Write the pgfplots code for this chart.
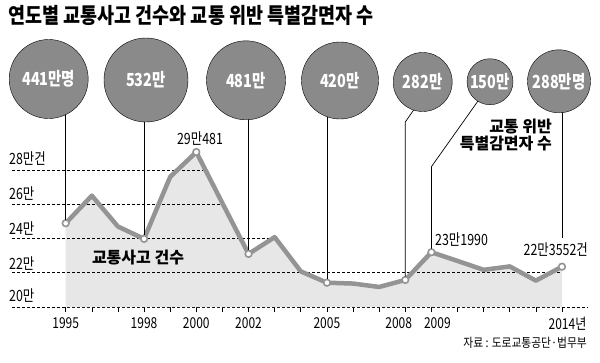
\documentclass[border=0pt]{standalone}
\usepackage{fontspec}
\usepackage{pgfplots}
\pgfplotsset{compat=1.18}
\setmainfont{Noto Sans CJK KR}
\newfontfamily\cond[FakeStretch=0.8]{Noto Sans CJK KR}
\newfontfamily\condt[FakeStretch=0.86]{Noto Sans CJK KR}
\definecolor{linegray}{RGB}{148,148,148}
\definecolor{bubble}{RGB}{138,138,138}
\definecolor{fillgray}{RGB}{231,231,231}
\pgfplotstableread{
year val
1995 24.89
1996 26.50
1997 24.70
1998 23.98
1999 27.60
2000 29.0481
2001 26.06
2002 23.10
2003 24.08
2004 22.08
2005 21.42
2006 21.37
2007 21.17
2008 21.58
2009 23.199
2010 22.69
2011 22.17
2012 22.37
2013 21.54
2014 22.3552
}\accidents
\pgfplotstableread{
year val
1995 24.89
1998 23.98
2000 29.0481
2002 23.10
2005 21.42
2008 21.58
2009 23.199
2014 22.3552
}\marked
\pgfplotsset{
  bub/.style={only marks, mark=*, mark size=#1, mark options={fill=bubble, draw=none},
    every node near coord/.style={anchor=center, text=white, inner sep=0pt,
      font=\cond\bfseries\fontsize{18bp}{18bp}\selectfont}},
}
\begin{document}
\begin{tikzpicture}
% data axis
\begin{axis}[
  at={(12bp,55bp)}, anchor=south west,
  scale only axis, width=576bp, height=137bp,
  xmin=1992.944, xmax=2014.996, ymin=20, ymax=28,
  clip=false,
  axis x line*=bottom, axis y line=none,
  x axis line style={-, black, line width=0.6bp, dash pattern=on 3bp off 2bp},
  xtick={1995,...,2014},
  xticklabels={1995,,,1998,,2000,,2002,,,2005,,,\hspace*{-13bp}2008,2009\hspace*{-12bp},,,,,2014\rlap{년}},
  xtick align=outside, major tick length=5bp,
  tick style={black, line width=0.6bp},
  ytick=\empty,
  xticklabel style={font=\cond\fontsize{15bp}{15bp}\selectfont, yshift=-2bp},
]
\addplot[fill=fillgray, draw=none] table[x=year,y=val] {
year val
1995 20
1995 24.89
1996 26.50
1997 24.70
1998 23.98
1999 27.60
2000 29.0481
2001 26.06
2002 23.10
2003 24.08
2004 22.08
2005 21.42
2006 21.37
2007 21.17
2008 21.58
2009 23.199
2010 22.69
2011 22.17
2012 22.37
2013 21.54
2014 22.3552
2014 20
};
\draw[black, line width=0.6bp, dash pattern=on 3bp off 2bp] (axis cs:1992.944,28) -- (axis cs:2000.26,28);
\draw[black, line width=0.6bp, dash pattern=on 3bp off 2bp] (axis cs:1992.944,26) -- (axis cs:2000.91,26);
\draw[black, line width=0.6bp, dash pattern=on 3bp off 2bp] (axis cs:1992.944,24) -- (axis cs:2002.82,24);
\draw[black, line width=0.6bp, dash pattern=on 3bp off 2bp] (axis cs:1992.944,22) -- (axis cs:2014,22);
\addplot[linegray, line width=4.5bp, line join=round] table[x=year,y=val] {\accidents};
\addplot[only marks, mark=*, mark size=3.3bp, mark options={fill=white, draw=linegray, line width=1.6bp}] table[x=year,y=val] {\marked};
\end{axis}
% annotation axis in pixel units
\begin{axis}[
  at={(0,0)}, anchor=south west,
  scale only axis, width=600bp, height=362bp,
  xmin=0, xmax=600, ymin=0, ymax=362, y dir=reverse,
  hide axis, clip=false,
]
\path (axis cs:0,0) rectangle (axis cs:600,362);
% connectors
\draw[black, line width=0.7bp] (axis cs:65.7,80) -- (axis cs:65.7,219.5);
\draw[black, line width=0.7bp] (axis cs:144.1,80) -- (axis cs:144.1,235);
\draw[black, line width=0.7bp] (axis cs:248.5,80) -- (axis cs:248.5,250);
\draw[black, line width=0.7bp] (axis cs:326.9,80) -- (axis cs:326.9,279);
\draw[black, line width=0.7bp] (axis cs:415,108) -- (axis cs:405.3,122) -- (axis cs:405.3,276.5);
\draw[black, line width=0.7bp] (axis cs:478,101) -- (axis cs:431.4,166.7) -- (axis cs:431.4,248.5);
\draw[black, line width=0.7bp] (axis cs:562,90) -- (axis cs:562,238);
% bubbles
\addplot[bub=39.5bp, nodes near coords={441만명}] coordinates {(48.7,79)};
\addplot[bub=42bp, nodes near coords={532만}] coordinates {(146,80)};
\addplot[bub=39.5bp, nodes near coords={481만}] coordinates {(246,80.3)};
\addplot[bub=38.5bp, nodes near coords={420만}] coordinates {(340,80.5)};
\addplot[bub=29.5bp, nodes near coords={282만}] coordinates {(422.7,82)};
\addplot[bub=23bp, nodes near coords={150만}] coordinates {(490,81.7)};
\addplot[bub=31.5bp, nodes near coords={288만명}] coordinates {(559,81.3)};
% title
\node[anchor=west, inner sep=0pt, font=\condt\bfseries\fontsize{21.5bp}{21.5bp}\selectfont] at (axis cs:8,15) {연도별 교통사고 건수와 교통 위반 특별감면자 수};
% y labels
\begin{scope}[every node/.style={anchor=west, inner sep=0pt, font=\cond\fontsize{15.5bp}{15.5bp}\selectfont}]
\node at (axis cs:9,158.3) {28만건};
\node at (axis cs:9,194) {26만};
\node at (axis cs:9,228.3) {24만};
\node at (axis cs:9,263.3) {22만};
\node at (axis cs:9,296) {20만};
\end{scope}
% value labels
\begin{scope}[every node/.style={inner sep=0pt, font=\cond\fontsize{15.5bp}{15.5bp}\selectfont}]
\node at (axis cs:200,139) {29만481};
\node[anchor=west] at (axis cs:435,240) {23만1990};
\node[anchor=east] at (axis cs:588,250) {22만3552건};
\end{scope}
\node[inner sep=0pt, font=\bfseries\fontsize{16bp}{16bp}\selectfont] at (axis cs:138,258) {교통사고 건수};
\node[anchor=east, inner sep=0pt, align=right, font=\bfseries\fontsize{16bp}{17bp}\selectfont] at (axis cs:552,135) {교통 위반\\특별감면자 수};
\node[anchor=east, inner sep=0pt, font=\condt\fontsize{12.5bp}{12.5bp}\selectfont] at (axis cs:587,343) {자료 : 도로교통공단·법무부};
\end{axis}
\end{tikzpicture}
\end{document}
